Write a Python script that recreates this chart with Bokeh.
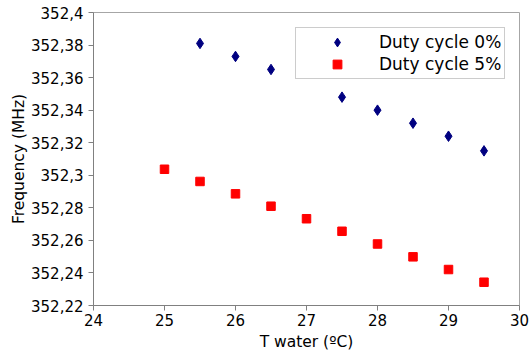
from bokeh.plotting import figure
from bokeh.models import Range1d, FixedTicker, CustomJSTickFormatter, Legend, LegendItem
from bokeh.embed import file_html
from bokeh.resources import INLINE

# Data
t_water_0 = [25.5, 26.0, 26.5, 27.5, 28.0, 28.5, 29.0, 29.5]
freq_0 = [352.381, 352.373, 352.365, 352.348, 352.340, 352.332, 352.324, 352.315]
t_water_5 = [25.0, 25.5, 26.0, 26.5, 27.0, 27.5, 28.0, 28.5, 29.0, 29.5]
freq_5 = [352.3037, 352.2962, 352.2886, 352.2810, 352.2733, 352.2656, 352.2578, 352.2499, 352.2421, 352.2343]
x_ticks = [24, 25, 26, 27, 28, 29, 30]
y_ticks = [352.22, 352.24, 352.26, 352.28, 352.30, 352.32, 352.34, 352.36, 352.38, 352.40]
series_names = ["Duty cycle 0%", "Duty cycle 5%"]

FONT = "DejaVu Sans"

p = figure(width=529, height=356, output_backend="svg", toolbar_location=None,
           x_range=Range1d(24, 30), y_range=Range1d(352.22, 352.40),
           min_border_left=93, min_border_right=10, min_border_top=12, min_border_bottom=51)

p.background_fill_color = "white"
p.border_fill_color = "white"
p.outline_line_color = "#a6a6a6"
p.outline_line_width = 1
p.grid.visible = False

r0 = p.scatter(t_water_0, freq_0, marker="diamond", size=10.5,
               fill_color="#000080", line_color="#000080")
r5 = p.scatter(t_water_5, freq_5, marker="square", size=8.5,
               fill_color="#ff0000", line_color="#ff0000")

for ax in (p.xaxis[0], p.yaxis[0]):
    ax.axis_line_color = "#808080"
    ax.major_tick_line_color = "#808080"
    ax.major_tick_out = 5
    ax.major_tick_in = 0
    ax.minor_tick_line_color = None
    ax.major_label_text_font = FONT
    ax.major_label_text_font_size = "15px"
    ax.major_label_text_color = "black"
    ax.axis_label_text_font = FONT
    ax.axis_label_text_font_size = "15.5px"
    ax.axis_label_text_font_style = "normal"
    ax.axis_label_text_color = "black"

p.xaxis.ticker = FixedTicker(ticks=x_ticks)
p.yaxis.ticker = FixedTicker(ticks=y_ticks)
p.yaxis.formatter = CustomJSTickFormatter(
    code="return (Math.round(tick*100)/100).toString().replace('.', ',');")
p.xaxis.axis_label = "T water (ºC)"
p.yaxis.axis_label = "Frequency (MHz)"
p.xaxis.major_label_standoff = 3
p.xaxis.axis_label_standoff = 4
p.yaxis.major_label_standoff = 5
p.yaxis.axis_label_standoff = 0

legend = Legend(items=[LegendItem(label=series_names[0], renderers=[r0]),
                       LegendItem(label=series_names[1], renderers=[r5])],
                location=(202, 226))
legend.label_text_font = FONT
legend.label_text_font_size = "17px"
legend.label_text_color = "black"
legend.border_line_color = "#999999"
legend.border_line_width = 1
legend.background_fill_color = "white"
legend.background_fill_alpha = 1
legend.padding = 3
legend.margin = 0
legend.spacing = 0
legend.glyph_width = 76
legend.glyph_height = 22
legend.label_height = 20
legend.label_standoff = 4
p.add_layout(legend, "center")

open("out.html", "w").write(file_html(p, INLINE))
